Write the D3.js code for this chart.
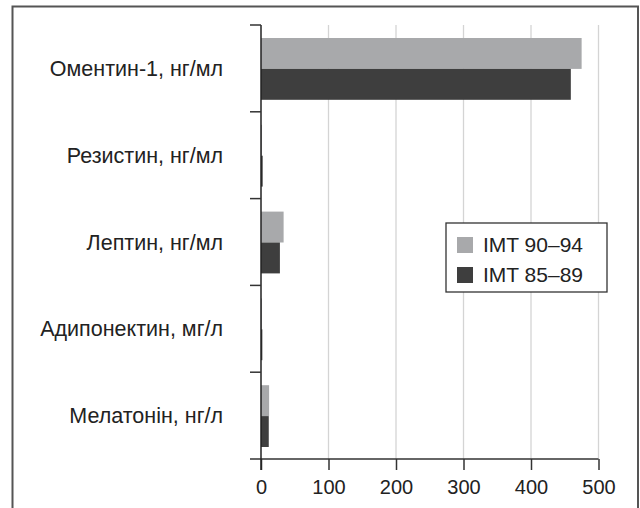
<!DOCTYPE html>
<html>
<head>
<meta charset="utf-8">
<script src="https://cdn.jsdelivr.net/npm/d3@7"></script>
<style>
    body { margin: 0; background: #fff; }
    svg { display: block; font-family: 'Liberation Sans', Arial, sans-serif; }
</style>
</head>
<body>
<div id="chart"></div>
<script>
const categories = ['Оментин-1, нг/мл', 'Резистин, нг/мл', 'Лептин, нг/мл', 'Адипонектин, мг/л', 'Мелатонін, нг/л'];
const series = ['IMT 90–94', 'IMT 85–89'];
const imt9094 = [475, 1.5, 33.5, 1.5, 12];
const imt8589 = [459, 2.5, 28, 2, 11.5];
const xticks = [0, 100, 200, 300, 400, 500];
const colors = ['#a8a9ab', '#3e3e3e'];

const fmt = {
    width: 640,
    height: 508,
    margins: { top: 25, right: 42, bottom: 49, left: 261 }
};

const width = fmt.width - fmt.margins.left - fmt.margins.right,
    height = fmt.height - fmt.margins.top - fmt.margins.bottom;

const x = d3.scaleLinear().domain([0, 500]).range([0, 337.5]);
const y = d3.scaleBand().domain(categories).range([0, height]);
const inner = d3.scaleBand().domain(series).range([13, y.bandwidth() - 12]);

let svg = d3.select('#chart').append('svg')
    .attr('width', fmt.width)
    .attr('height', fmt.height);

// outer frame, open at the bottom
svg.append('path')
    .attr('d', 'M12.5,512V6.5H638V512')
    .attr('fill', 'none')
    .attr('stroke', '#555')
    .attr('stroke-width', 2);

let g = svg.append('g')
    .attr('transform', 'translate(' + fmt.margins.left + ',' + fmt.margins.top + ')');

// grid
g.selectAll('.grid')
    .data(xticks.slice(1))
    .enter().append('line')
    .attr('x1', d => x(d)).attr('x2', d => x(d))
    .attr('y1', 0).attr('y2', height)
    .attr('stroke', '#d4d4d4')
    .attr('stroke-width', 1.3);

// bars
const rows = categories.map((c, i) => ({ c, vals: [imt9094[i], imt8589[i]] }));
let grp = g.selectAll('.cat')
    .data(rows)
    .enter().append('g')
    .attr('transform', d => 'translate(0,' + y(d.c) + ')');

grp.selectAll('rect')
    .data(d => d.vals.map((v, j) => ({ s: series[j], v, j })))
    .enter().append('rect')
    .attr('x', 0)
    .attr('y', d => inner(d.s))
    .attr('width', d => x(d.v))
    .attr('height', inner.bandwidth())
    .attr('fill', d => colors[d.j]);

// x axis
let bottom = g.append('g')
    .attr('transform', 'translate(0,' + height + ')')
    .call(d3.axisBottom(x).tickValues(xticks).tickSize(11).tickSizeOuter(0).tickPadding(10));
bottom.select('.domain').remove();
bottom.append('line')
    .attr('x1', -11).attr('x2', x(500))
    .attr('stroke', '#333').attr('stroke-width', 1.5);
bottom.selectAll('.tick line').attr('stroke', '#333').attr('stroke-width', 1.5);
bottom.selectAll('.tick text')
    .attr('fill', '#222')
    .attr('font-size', 20)
    .attr('font-family', 'Liberation Sans, Arial, sans-serif');

// y axis
g.append('line')
    .attr('x1', 0).attr('x2', 0)
    .attr('y1', 0).attr('y2', height + 11)
    .attr('stroke', '#222').attr('stroke-width', 1.5);

g.selectAll('.ytick')
    .data(categories)
    .enter().append('line')
    .attr('x1', -11).attr('x2', 0)
    .attr('y1', d => y(d)).attr('y2', d => y(d))
    .attr('stroke', '#333').attr('stroke-width', 1.5);

g.selectAll('.ylabel')
    .data(categories)
    .enter().append('text')
    .attr('x', -38)
    .attr('y', d => y(d) + y.bandwidth() / 2)
    .attr('dy', '0.35em')
    .attr('text-anchor', 'end')
    .attr('fill', '#222')
    .attr('font-size', 21.5)
    .text(d => d);

// legend
let legend = svg.append('g')
    .attr('transform', 'translate(446,223)');
legend.append('rect')
    .attr('width', 161).attr('height', 69)
    .attr('fill', '#fff')
    .attr('stroke', '#333')
    .attr('stroke-width', 1.3);
series.forEach((s, i) => {
    legend.append('rect')
        .attr('x', 11).attr('y', 14 + i * 30)
        .attr('width', 16).attr('height', 16)
        .attr('fill', colors[i]);
    legend.append('text')
        .attr('x', 37).attr('y', 22 + i * 30)
        .attr('dy', '0.35em')
        .attr('fill', '#222')
        .attr('font-size', 21)
        .text(s);
});
</script>
</body>
</html>
